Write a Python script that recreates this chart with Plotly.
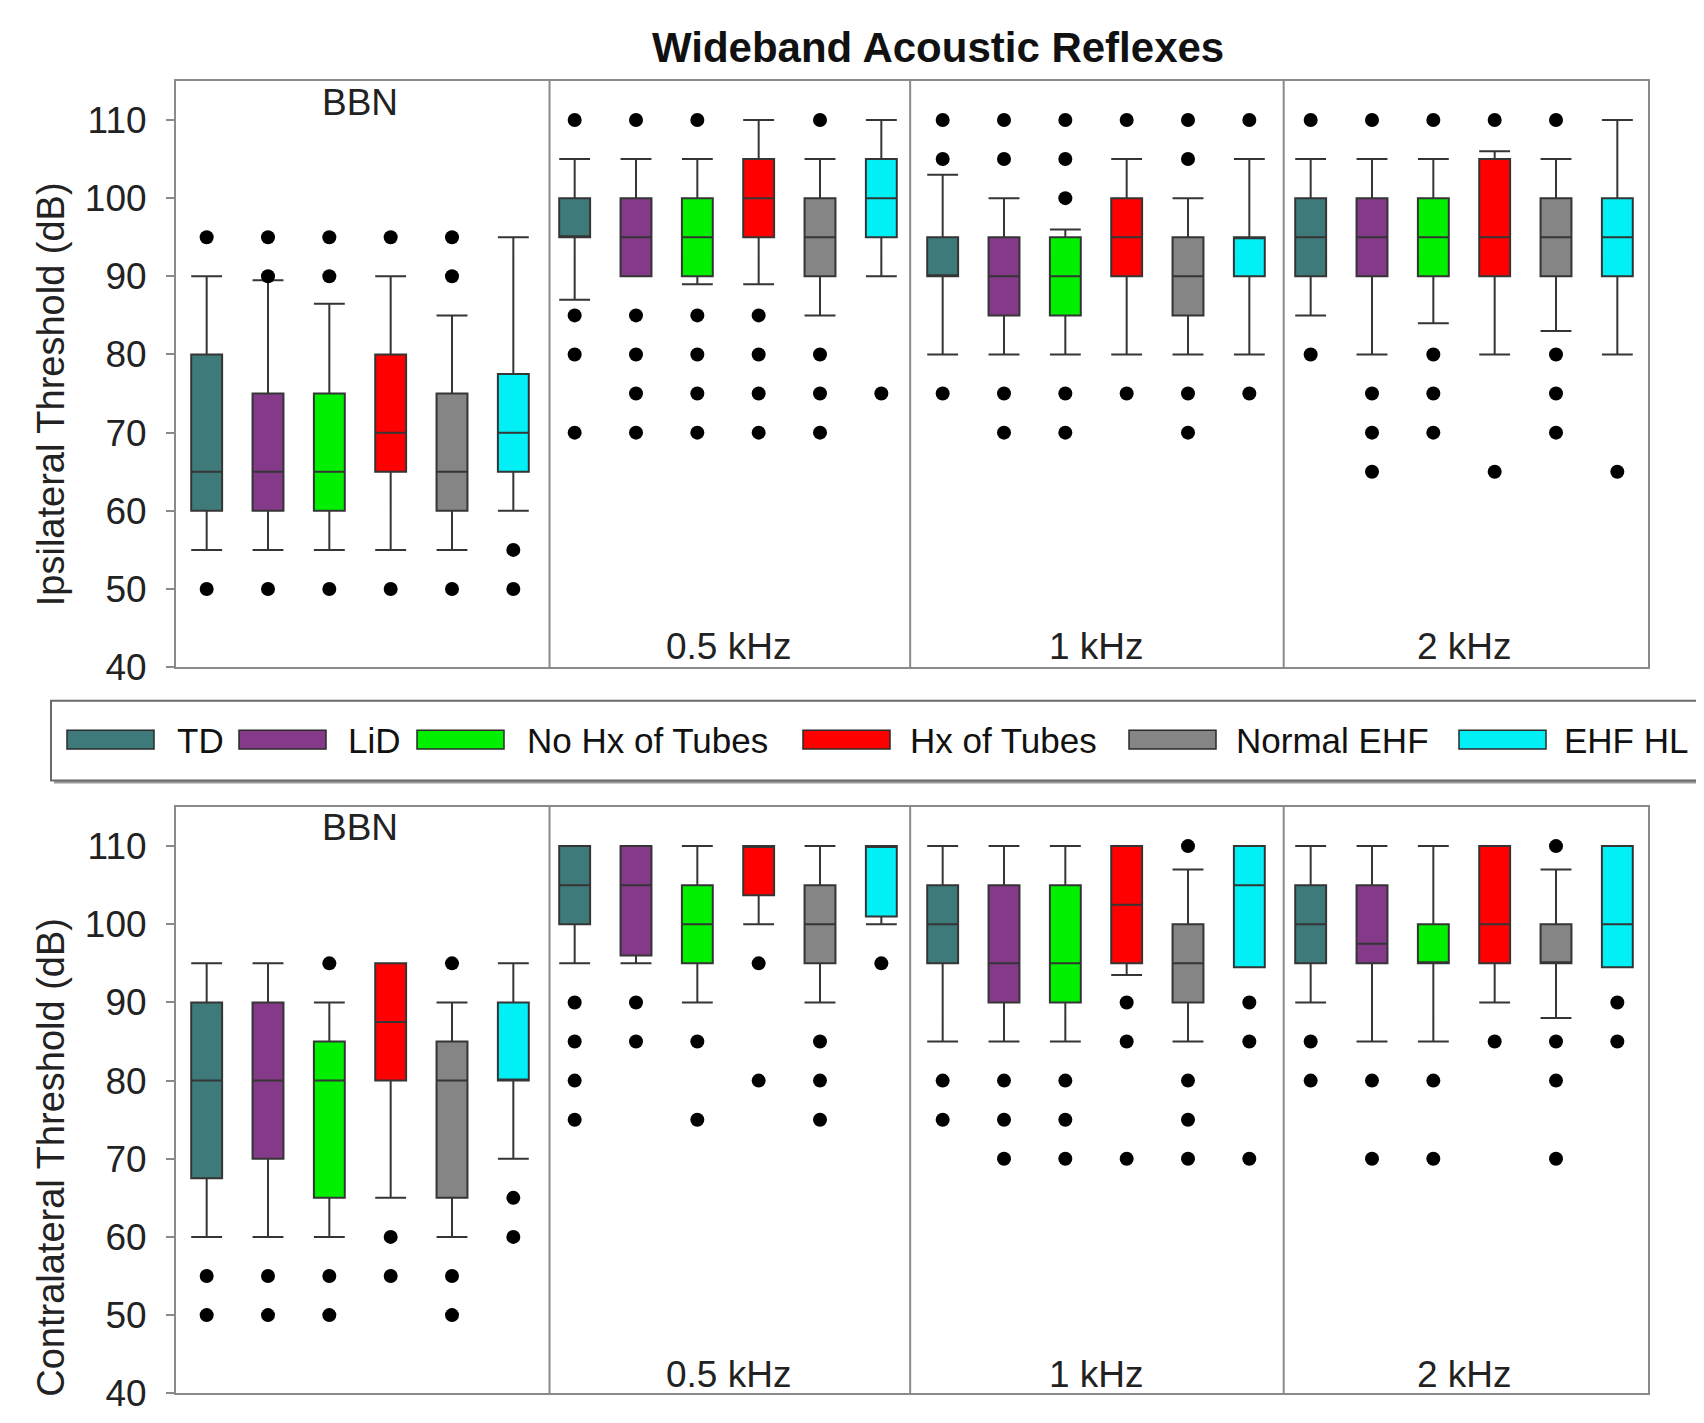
import plotly.graph_objects as go

# ---------------- data ----------------
series = ["TD", "LiD", "No Hx of Tubes", "Hx of Tubes", "Normal EHF", "EHF HL"]
colors = ["#3f7a7b", "#843a88", "#00f000", "#ff0000", "#858585", "#00f0f6"]
groups = ["BBN", "0.5 kHz", "1 kHz", "2 kHz"]

# Ipsilateral (per series, per group)
ipsi_q1 = [[60, 95, 90, 90], [60, 90, 85, 90], [60, 90, 85, 90],
           [65, 95, 90, 90], [60, 90, 85, 90], [65, 95, 90, 90]]
ipsi_med = [[65, 95, 90, 95], [65, 95, 90, 95], [65, 95, 90, 95],
            [70, 100, 95, 95], [65, 95, 90, 95], [70, 100, 95, 95]]
ipsi_q3 = [[80, 100, 95, 100], [75, 100, 95, 100], [75, 100, 95, 100],
           [80, 105, 100, 105], [75, 100, 95, 100], [77.5, 105, 95, 100]]
ipsi_lo = [[55, 87, 80, 85], [55, 90, 80, 80], [55, 89, 80, 84],
           [55, 89, 80, 80], [55, 85, 80, 83], [60, 90, 80, 80]]
ipsi_hi = [[90, 105, 103, 105], [89.5, 105, 100, 105], [86.5, 105, 96, 105],
           [90, 110, 105, 106], [85, 105, 100, 105], [95, 110, 105, 110]]
ipsi_out = [
    [[95, 50], [110, 85, 80, 70], [110, 105, 75], [110, 80]],
    [[95, 90, 50], [110, 85, 80, 75, 70], [110, 105, 75, 70], [110, 75, 70, 65]],
    [[95, 90, 50], [110, 85, 80, 75, 70], [110, 105, 100, 75, 70], [110, 80, 75, 70]],
    [[95, 50], [85, 80, 75, 70], [110, 75], [110, 65]],
    [[95, 90, 50], [110, 80, 75, 70], [110, 105, 75, 70], [110, 80, 75, 70]],
    [[55, 50], [75], [110, 75], [65]],
]

# Contralateral
contra_q1 = [[67.5, 100, 95, 95], [70, 96, 90, 95], [65, 95, 90, 95],
             [80, 103.7, 95, 95], [65, 95, 90, 95], [80, 101, 94.5, 94.5]]
contra_med = [[80, 105, 100, 100], [80, 105, 95, 97.5], [80, 100, 95, 95],
              [87.5, 110, 102.5, 100], [80, 100, 95, 95], [80, 110, 105, 100]]
contra_q3 = [[90, 110, 105, 105], [90, 110, 105, 105], [85, 105, 105, 100],
             [95, 110, 110, 110], [85, 105, 100, 100], [90, 110, 110, 110]]
contra_lo = [[60, 95, 85, 90], [60, 95, 85, 85], [60, 90, 85, 85],
             [65, 100, 93.5, 90], [60, 90, 85, 88], [70, 100, 94.5, 94.5]]
contra_hi = [[95, 110, 110, 110], [95, 110, 110, 110], [90, 110, 110, 110],
             [95, 110, 110, 110], [90, 110, 107, 107], [95, 110, 110, 110]]
contra_out = [
    [[55, 50], [90, 85, 80, 75], [80, 75], [85, 80]],
    [[55, 50], [90, 85], [80, 75, 70], [80, 70]],
    [[95, 55, 50], [85, 75], [80, 75, 70], [80, 70]],
    [[60, 55], [95, 80], [90, 85, 70], [85]],
    [[95, 55, 50], [85, 80, 75], [110, 80, 75, 70], [110, 85, 80, 70]],
    [[65, 60], [95], [90, 85, 70], [90, 85]],
]

y_ticks = [40, 50, 60, 70, 80, 90, 100, 110]

# ---------------- figure ----------------
W, H = 1704, 1423
FONT = "Liberation Sans, Arial, Helvetica, sans-serif"
def PX(x): return x / W
def PY(y): return 1 - y / H

fig = go.Figure()
n_series = len(series)

panels = [
    ("x", "y", ipsi_q1, ipsi_med, ipsi_q3, ipsi_lo, ipsi_hi, ipsi_out),
    ("x2", "y2", contra_q1, contra_med, contra_q3, contra_lo, contra_hi, contra_out),
]

for xa, ya, q1, med, q3, lo, hi, outl in panels:
    for k in range(n_series):
        xs = [g + (k + 0.5) / n_series for g in range(len(groups))]
        fig.add_trace(go.Box(
            x=xs, q1=q1[k], median=med[k], q3=q3[k],
            lowerfence=lo[k], upperfence=hi[k],
            width=0.084, whiskerwidth=1,
            fillcolor=colors[k], line=dict(color="#353535", width=2),
            boxpoints=False, showlegend=False, hoverinfo="skip",
            xaxis=xa, yaxis=ya,
        ))
    for k in range(n_series):
        ox, oy = [], []
        for g in range(len(groups)):
            for v in outl[k][g]:
                ox.append(g + (k + 0.5) / n_series)
                oy.append(v)
        fig.add_trace(go.Scatter(
            x=ox, y=oy, mode="markers",
            marker=dict(color="black", size=14),
            showlegend=False, hoverinfo="skip", xaxis=xa, yaxis=ya,
        ))

x_dom = [PX(168), PX(1640)]
ax_common = dict(showline=True, mirror=True, linecolor="#8a8a8a", linewidth=2,
                 showgrid=False, zeroline=False)
xaxis_common = dict(ax_common, range=[0, 4], showticklabels=False, ticks="",
                    domain=x_dom)
yaxis_common = dict(ax_common, range=[40, 115], tickvals=y_ticks,
                    ticks="outside", ticklen=8, tickwidth=2, tickcolor="#8a8a8a",
                    tickfont=dict(size=37, color="#222", family=FONT),
                    ticklabelstandoff=12)

fig.update_layout(
    width=W, height=H,
    margin=dict(l=0, r=0, t=0, b=0),
    paper_bgcolor="white", plot_bgcolor="white",
    font=dict(family=FONT, color="#111"),
    showlegend=False,
    boxmode="overlay",
    xaxis=dict(xaxis_common, anchor="y"),
    yaxis=dict(yaxis_common, domain=[PY(669), PY(74)], anchor="x"),
    xaxis2=dict(xaxis_common, anchor="y2"),
    yaxis2=dict(yaxis_common, domain=[PY(1406), PY(811)], anchor="x2"),
)

shapes = []
# group dividers
for xa, ya in [("x", "y"), ("x2", "y2")]:
    for d in [1.015, 1.995, 3.01]:
        shapes.append(dict(type="line", xref=xa, yref=f"{ya} domain",
                           x0=d, x1=d, y0=0, y1=1,
                           line=dict(color="#8a8a8a", width=2)))

# legend box (with light shadow)
shapes.append(dict(type="rect", xref="paper", yref="paper",
                   x0=PX(46), x1=PX(1703), y0=PY(787), y1=PY(706),
                   fillcolor="#9a9a9a", line=dict(width=0), layer="below"))
shapes.append(dict(type="rect", xref="paper", yref="paper",
                   x0=PX(43), x1=PX(1700), y0=PY(784), y1=PY(703),
                   fillcolor="white", line=dict(color="#6a6a6a", width=2),
                   layer="below"))

annotations = []
legend_rect_x = [59, 231, 409, 795, 1121, 1451]
legend_text_x = [167, 338, 517, 900, 1226, 1554]
for k in range(n_series):
    x0 = legend_rect_x[k]
    shapes.append(dict(type="rect", xref="paper", yref="paper",
                       x0=PX(x0), x1=PX(x0 + 87), y0=PY(752), y1=PY(733),
                       fillcolor=colors[k], line=dict(color="#2a2a2a", width=1.5)))
    annotations.append(dict(xref="paper", yref="paper", x=PX(legend_text_x[k]),
                            y=PY(743), text=series[k], showarrow=False,
                            xanchor="left", yanchor="middle",
                            font=dict(size=35, color="#111", family=FONT)))

# title
annotations.append(dict(xref="paper", yref="paper", x=PX(930), y=PY(40),
                        text="<b>Wideband Acoustic Reflexes</b>", showarrow=False,
                        xanchor="center", yanchor="middle",
                        font=dict(size=42, color="#111", family=FONT)))
# axis titles
annotations.append(dict(xref="paper", yref="paper", x=PX(43), y=PY(392),
                        text="Ipsilateral Threshold (dB)", textangle=-90,
                        showarrow=False, xanchor="center", yanchor="middle",
                        font=dict(size=38, color="#222", family=FONT)))
annotations.append(dict(xref="paper", yref="paper", x=PX(43), y=PY(1167),
                        text="Contralateral Threshold (dB)", textangle=-90,
                        showarrow=False, xanchor="center", yanchor="middle",
                        font=dict(size=38, color="#222", family=FONT)))
# group labels
for xa, ya, ytop, ybot in [("x", "y", 112.2, 42.7), ("x2", "y2", 112.4, 42.4)]:
    for g, name in enumerate(groups):
        annotations.append(dict(xref=xa, yref=ya, x=g + 0.5,
                                y=ytop if g == 0 else ybot,
                                text=name, showarrow=False,
                                xanchor="center", yanchor="middle",
                                font=dict(size=37, color="#222", family=FONT)))

fig.update_layout(shapes=shapes, annotations=annotations)
fig.write_html("out.html")
